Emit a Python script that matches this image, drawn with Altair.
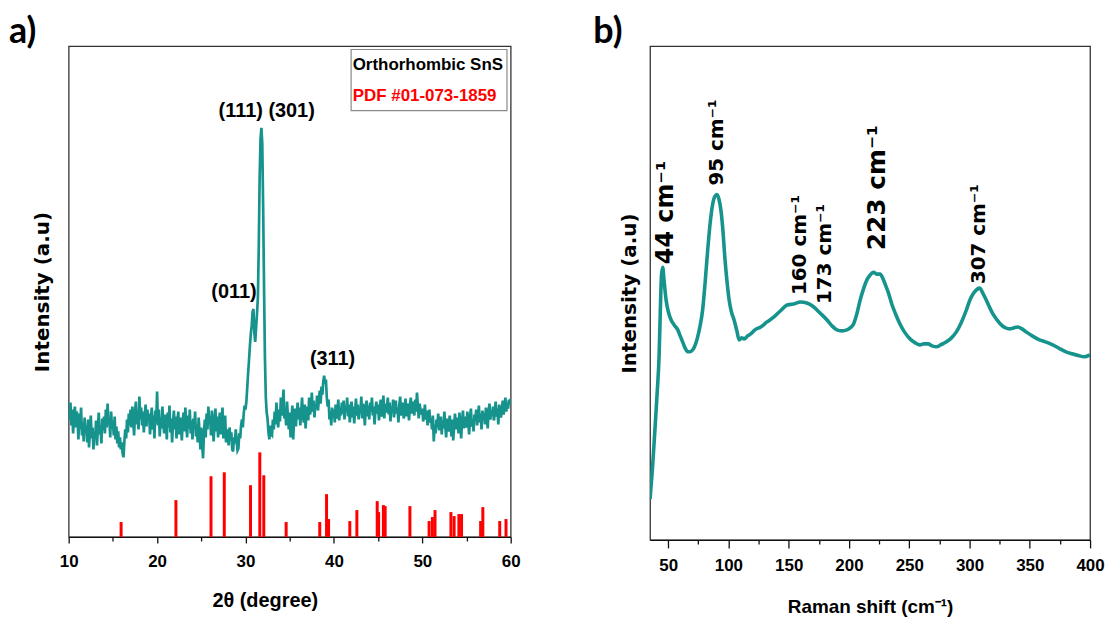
import altair as alt
import pandas as pd

# ---------------- XRD (panel a) ----------------
xrd_start = 10.0
xrd_step = 0.1
xrd_intensity = [
    125, 118, 135, 112, 128, 104, 122, 131, 110, 126,
    119, 98, 124, 108, 130, 102, 115, 96, 120, 105,
    112, 95, 118, 90, 106, 122, 99, 110, 88, 104,
    100, 117, 92, 108, 125, 103, 111, 94, 119, 107,
    121, 104, 128, 110, 134, 113, 118, 100, 126, 109,
    116, 102, 121, 98, 111, 94, 106, 90, 100, 88,
    95, 84, 80, 96, 108, 99, 118, 105, 124, 112,
    128, 110, 131, 116, 102, 125, 136, 113, 127, 108,
    141, 118, 130, 112, 126, 105, 121, 133, 111, 128,
    117, 124, 103, 119, 130, 108, 122, 99, 127, 114,
    146, 112, 128, 101, 120, 109, 131, 115, 104, 123,
    118, 98, 125, 110, 132, 105, 119, 95, 114, 127,
    108, 121, 99, 116, 126, 103, 120, 111, 97, 118,
    125, 106, 130, 112, 100, 122, 109, 128, 104, 117,
    98, 119, 108, 126, 101, 113, 95, 120, 106, 88,
    110, 92, 79, 104, 118, 100, 124, 108, 131, 115,
    120, 102, 127, 111, 96, 118, 129, 106, 121, 100,
    116, 125, 103, 119, 130, 99, 113, 122, 95, 108,
    101, 92, 110, 97, 105, 88, 86, 100, 94, 108,
    96, 87, 89, 104, 99, 112, 118, 110, 124, 132,
    128, 136, 150, 165, 178, 192, 204, 212, 226, 229,
    205, 196, 210, 224, 240, 290, 360, 400, 411, 395,
    330, 250, 180, 140, 125, 118, 105, 98, 112, 103,
    102, 118, 108, 126, 113, 135, 120, 110, 128, 116,
    140, 122, 131, 148, 119, 127, 112, 136, 121, 108,
    125, 100, 117, 132, 98, 120, 129, 111, 124, 135,
    118, 130, 112, 126, 140, 121, 115, 133, 109, 127,
    131, 117, 140, 123, 128, 145, 126, 137, 120, 133,
    129, 142, 127, 138, 147, 134, 151, 143, 156, 162,
    154, 158, 140, 131, 138, 118, 126, 112, 130, 121,
    128, 115, 133, 119, 126, 138, 117, 130, 122, 135,
    124, 137, 118, 131, 126, 140, 121, 133, 115, 128,
    136, 120, 131, 114, 127, 139, 122, 133, 118, 129,
    125, 141, 119, 134, 128, 112, 130, 137, 121, 132,
    118, 135, 126, 140, 122, 131, 113, 128, 136, 124,
    133, 117, 130, 138, 121, 127, 142, 119, 134, 125,
    129, 140, 123, 135, 116, 131, 126, 138, 120, 132,
    137, 124, 130, 115, 133, 141, 122, 128, 135, 119,
    127, 139, 121, 134, 129, 117, 132, 140, 124, 136,
    130, 122, 138, 126, 145, 131, 119, 134, 127, 123,
    129, 116, 124, 133, 118, 127, 112, 121, 128, 115,
    119, 108, 122, 96, 113, 104, 118, 110, 124, 107,
    115, 121, 103, 117, 109, 126, 112, 100, 119, 111,
    106, 122, 113, 101, 118, 97, 111, 124, 108, 116,
    120, 104, 125, 112, 99, 117, 127, 109, 121, 114,
    110, 126, 115, 103, 120, 129, 111, 118, 106, 123,
    117, 128, 112, 121, 132, 115, 124, 108, 127, 119,
    125, 113, 130, 120, 109, 127, 134, 118, 126, 122,
    131, 117, 124, 136, 121, 129, 113, 133, 126, 120,
    128, 137, 123, 132, 140, 126, 135, 129, 138, 133,
    139,
]

# reference pattern PDF #01-073-1859
ref_positions = [15.93, 22.13, 26.1, 27.6, 30.57, 31.62, 32.07, 34.6, 38.4, 39.17,
                 39.4, 41.8, 42.6, 44.9, 45.06, 45.6, 45.8, 48.6, 50.77, 51.14,
                 51.44, 53.24, 53.6, 54.14, 54.44, 56.6, 56.85, 58.76, 59.47]
ref_heights = [15, 37, 61, 65, 52, 85, 62, 15, 15, 43,
               18, 16, 27, 36, 25, 32, 31, 31, 16, 20,
               27, 25, 21, 23, 23, 16, 30, 16, 18]

xrd_labels = ["(111) (301)", "(011)", "(311)"]
xrd_label_x = [32.4, 28.7, 39.85]
xrd_label_y = [428, 246, 179]

legend_lines = ["Orthorhombic SnS", "PDF #01-073-1859"]
legend_colors = ["#000000", "#ff0000"]
legend_x = [42.13, 42.13]
legend_y = [474, 443]
legend_box = {"x0": 41.95, "x1": 59.58, "y0": 428.3, "y1": 489.7}

# ---------------- Raman (panel b) ----------------
raman_shift = [35, 37, 39, 41, 42.5, 43.5, 44.5, 45.5, 46.5, 48.3,
               50, 52.5, 55, 58, 60, 62, 64, 66.3, 68, 70.4,
               72.5, 74.5, 76.5, 78.6, 80.5, 82.8, 85, 86.9, 88.7, 90.5,
               92.2, 93.8, 95.5, 97, 98.8, 100.6, 102.5, 104.7, 107, 108.9,
               111, 113, 116, 118.5, 122, 126.8, 132, 137.8, 143, 148.8,
               154, 159.8, 165, 170.8, 176, 181.8, 186, 190, 194, 198.3,
               201, 203.8, 206.5, 209.3, 212, 214.8, 217.5, 220.3, 223, 225.8,
               228, 230, 232.8, 235.5, 239, 242.3, 246, 250.6, 255, 258.9,
               262, 265.7, 269, 272.6, 276, 280.9, 285, 289.1, 293, 297.4,
               300, 302.9, 305.5, 308.4, 311, 313.9, 316.5, 319.4, 322.8, 326.3,
               330, 333.2, 336.5, 340.1, 343.5, 347, 352, 358, 363, 369,
               375, 380, 385, 391, 395, 400]
raman_intensity = [41, 72, 110, 150, 185, 230, 266, 274, 262, 241,
                   230, 221, 216, 211, 205, 199, 193, 189, 189, 191,
                   196, 204, 215, 231, 256, 291, 320, 337, 345, 347,
                   342, 331, 310, 284, 260, 241, 229, 221, 210, 201,
                   203, 202, 205, 207, 211, 214, 219, 224, 230, 236,
                   237, 239, 238, 234, 228, 221, 215, 211, 210, 211,
                   213, 217, 227, 241, 252, 261, 266, 269, 267, 267,
                   263, 257, 248, 237, 226, 217, 209, 202, 198, 196,
                   197, 197, 195, 194, 196, 199, 203, 209, 218, 231,
                   240, 247, 251, 253, 248, 241, 234, 227, 221, 216,
                   213, 212, 213, 214, 212, 209, 205, 201, 199, 196,
                   192, 189, 187, 185, 184, 186]

raman_labels = ["44 cm⁻¹", "95 cm⁻¹", "160 cm⁻¹", "173 cm⁻¹", "223 cm⁻¹", "307 cm⁻¹"]
raman_label_x = [48.3, 90.4, 159.8, 180.4, 223.4, 307.5]
raman_label_y = [277, 356, 246, 237, 291, 257]
raman_label_size = [24, 20, 20, 20, 25, 20]

# ---------------- styling ----------------
TEAL = "#16938c"
RED = "#ff0000"
SANS = "Liberation Sans, Arial, sans-serif"
WIDE = "DejaVu Sans, sans-serif"
PANEL_FONT = "Lato, Open Sans, sans-serif"

xrd_df = pd.DataFrame({
    "two_theta": [round(xrd_start + xrd_step * i, 1) for i in range(len(xrd_intensity))],
    "intensity": xrd_intensity,
})
ref_df = pd.DataFrame({"two_theta": ref_positions, "intensity": ref_heights,
                       "base": [0] * len(ref_positions)})
xrd_lab_df = pd.DataFrame({"two_theta": xrd_label_x, "intensity": xrd_label_y, "text": xrd_labels})
leg_df = pd.DataFrame({"two_theta": legend_x, "intensity": legend_y, "text": legend_lines,
                       "color": legend_colors})
box_df = pd.DataFrame({"two_theta": [legend_box["x0"]], "two_theta_end": [legend_box["x1"]],
                       "intensity": [legend_box["y0"]], "intensity_end": [legend_box["y1"]]})

raman_df = pd.DataFrame({"shift": raman_shift, "intensity": raman_intensity})
raman_lab_df = pd.DataFrame({"shift": raman_label_x, "intensity": raman_label_y,
                             "text": raman_labels, "fs": raman_label_size})

LEFT_W, LEFT_H = 444, 493
RIGHT_W, RIGHT_H = 442, 496

left_x_axis = alt.Axis(
    title="2θ (degree)", values=list(range(10, 61, 5)), format="d",
    labelExpr="datum.value % 10 === 0 ? datum.label : ''",
    tickSize={"condition": {"test": "datum.value % 10 === 0", "value": 6}, "value": 4},
    labelFont=SANS, labelFontSize=17, labelFontWeight="bold", labelColor="black",
    labelPadding=11, labelFlush=False, labelOverlap=False,
    titleFont=SANS, titleFontSize=20, titleFontWeight="bold", titleColor="black",
    titlePadding=21, titleX=197,
    tickColor="#111", tickWidth=1.3, domainColor="#111", domainWidth=1.3, grid=False,
)
right_x_axis = alt.Axis(
    title="Raman shift (cm⁻¹)", values=list(range(50, 401, 25)), format="d",
    labelExpr="datum.value % 50 === 0 ? datum.label : ''",
    tickSize={"condition": {"test": "datum.value % 50 === 0", "value": 8}, "value": 4},
    labelFont=SANS, labelFontSize=17, labelFontWeight="bold", labelColor="black",
    labelPadding=10, labelFlush=False, labelOverlap=False,
    titleFont=SANS, titleFontSize=19, titleFontWeight="bold", titleColor="black",
    titlePadding=24,
    tickColor="#111", tickWidth=1.3, domainColor="#111", domainWidth=1.3, grid=False,
)


def y_axis(pad):
    return alt.Axis(title="Intensity (a.u)", labels=False, ticks=False, domain=False, grid=False,
                    minExtent=0, titleFont=WIDE, titleFontSize=20, titleFontWeight="bold",
                    titleColor="black", titlePadding=pad)


lx = alt.X("two_theta:Q", scale=alt.Scale(domain=[10, 60], nice=False), axis=left_x_axis)
ly = alt.Y("intensity:Q", scale=alt.Scale(domain=[0, LEFT_H], nice=False), axis=y_axis(16))
rx = alt.X("shift:Q", scale=alt.Scale(domain=[35, 400], nice=False), axis=right_x_axis)
ry = alt.Y("intensity:Q", scale=alt.Scale(domain=[0, RIGHT_H], nice=False), axis=y_axis(11))

xrd_line = alt.Chart(xrd_df).mark_line(color=TEAL, strokeWidth=2.7, clip=True).encode(x=lx, y=ly)
ref_sticks = alt.Chart(ref_df).mark_rule(color=RED, strokeWidth=3).encode(
    x=lx, y=ly, y2=alt.Y2("base:Q"))
xrd_text = alt.Chart(xrd_lab_df).mark_text(font=SANS, fontSize=20, fontWeight="bold",
                                           color="black", baseline="middle").encode(
    x=lx, y=ly, text="text:N")
box = alt.Chart(box_df).mark_rect(fill="white", stroke="#8a8a8a", strokeWidth=1.2).encode(
    x=lx, x2=alt.X2("two_theta_end:Q"), y=ly, y2=alt.Y2("intensity_end:Q"))
leg_text = alt.Chart(leg_df).mark_text(font=SANS, fontSize=17, fontWeight="bold",
                                       align="left", baseline="middle").encode(
    x=lx, y=ly, text="text:N", color=alt.Color("color:N", scale=None))

left = alt.layer(xrd_line, ref_sticks, xrd_text, box, leg_text).properties(
    width=LEFT_W, height=LEFT_H,
    title=alt.TitleParams("a)", anchor="start", frame="group", dx=-60, fontSize=36,
                          font=PANEL_FONT, fontWeight="bold", color="black",
                          baseline="alphabetic", offset=-33),
)

raman_line = alt.Chart(raman_df).mark_line(color=TEAL, strokeWidth=3.6, interpolate="monotone",
                                           clip=True).encode(x=rx, y=ry)
raman_text = alt.Chart(raman_lab_df).mark_text(font=WIDE, fontWeight="bold", color="black",
                                               angle=270, align="left", baseline="middle").encode(
    x=rx, y=ry, text="text:N", size=alt.Size("fs:Q", scale=None))

right = alt.layer(raman_line, raman_text).properties(
    width=RIGHT_W, height=RIGHT_H,
    title=alt.TitleParams("b)", anchor="start", frame="group", dx=-57, fontSize=36,
                          font=PANEL_FONT, fontWeight="bold", color="black",
                          baseline="alphabetic", offset=-33),
)

chart = alt.hconcat(left, right, spacing=71).properties(
    padding={"left": 8, "top": 12, "right": 0, "bottom": 0}
).configure_view(stroke="#333", strokeWidth=1.3)

chart.save("out.html", embed_options={"renderer": "svg", "actions": False})
